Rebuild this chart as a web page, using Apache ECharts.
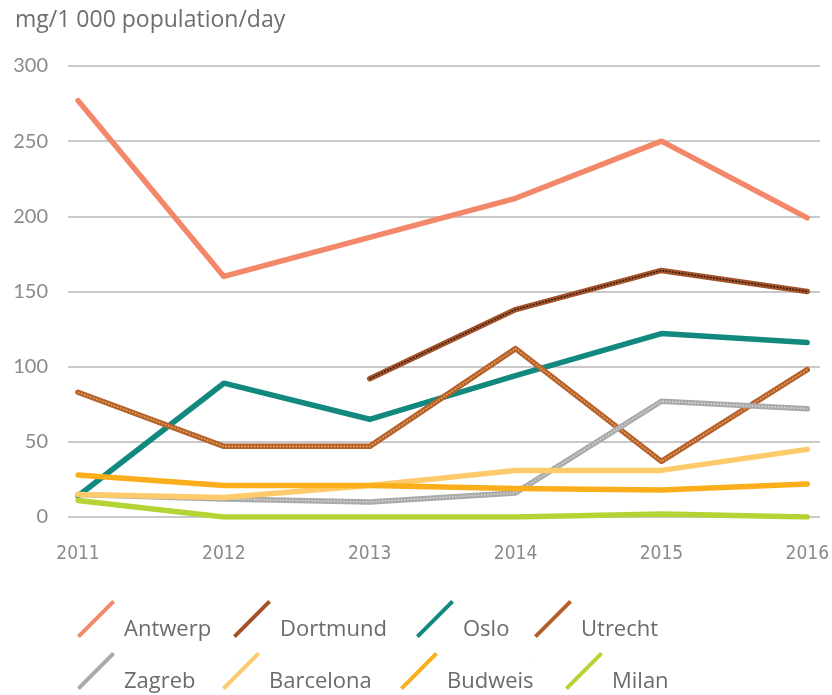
<!DOCTYPE html>
<html><head><meta charset="utf-8">
<script src="https://cdn.jsdelivr.net/npm/echarts@6/dist/echarts.min.js"></script>
<style>html,body{margin:0;padding:0;background:#fff}#c{width:832px;height:695px}</style>
</head><body><div id="c"></div>
<script>
const years = ['2011','2012','2013','2014','2015','2016'];
const yTicks = [0, 50, 100, 150, 200, 250, 300];
const antwerp   = [277, 160, 186, 212, 250, 199];
const dortmund  = [null, null, 92, 138, 164, 150];
const oslo      = [14, 89, 65, 94, 122, 116];
const utrecht   = [83, 47, 47, 112, 37, 98];
const zagreb    = [15, 12, 10, 16, 77, 72];
const barcelona = [15, 13, 21, 31, 31, 45];
const budweis   = [28, 21, 21, 19, 18, 22];
const milan     = [11, 0, 0, 0, 2, 0];

const FONT = 'Lato, "Open Sans", sans-serif';
const WIDE = '"Open Sans", "Noto Sans", sans-serif';
const NARROW = '"Liberation Sans Narrow", "DejaVu Sans Condensed", sans-serif';
const ICON = 'path://M0,37 L3,40 L40,3 L37,0 Z M0,62 L0.3,62 L0.3,61.7 Z';

const defs = [
  {name:'Antwerp',   data:antwerp,   color:'#F3876A'},
  {name:'Dortmund',  data:dortmund,  color:'#A3522A', over:'#2a1810', overType:'dotted'},
  {name:'Oslo',      data:oslo,      color:'#11897F'},
  {name:'Utrecht',   data:utrecht,   color:'#B5612D', over:'#E8A453', overType:'dotted'},
  {name:'Zagreb',    data:zagreb,    color:'#A9A9A9', over:'#D6D6D6', overType:'dotted'},
  {name:'Barcelona', data:barcelona, color:'#FDCB6B'},
  {name:'Budweis',   data:budweis,   color:'#FBAE1C'},
  {name:'Milan',     data:milan,     color:'#B4D334'}
];
const legendPos = {
  Antwerp:[77,600], Dortmund:[233,600], Oslo:[416,600], Utrecht:[534,600],
  Zagreb:[77,652], Barcelona:[222,652], Budweis:[400,652], Milan:[565,652]
};

const series = [];
defs.forEach(d => {
  series.push({
    name:d.name, type:'line', xAxisIndex:1, yAxisIndex:1, data:d.data,
    symbol:'none', connectNulls:false, color:d.color,
    lineStyle:{width:5.5, color:d.color, cap:'round', join:'round'}
  });
  if (d.over) {
    series.push({
      name:d.name, type:'line', xAxisIndex:1, yAxisIndex:1, data:d.data,
      symbol:'none', silent:true, color:d.color,
      lineStyle:{width:1.6, color:d.over, type:d.overType}
    });
  }
});

const legends = defs.map(d => ({
  data:[{name:d.name, icon:ICON}], left:legendPos[d.name][0], top:legendPos[d.name][1],
  itemWidth:38, itemHeight:62, itemGap:0, selectedMode:false, padding:0,
  textStyle:{fontFamily:WIDE, fontSize:22, color:'#6b6b6b', padding:[0,0,0,4]}
}));

const chart = echarts.init(document.getElementById('c'), null, {renderer:'canvas'});
chart.setOption({
  animation:false,
  backgroundColor:'#fff',
  title:{text:'mg/1 000 population/day', left:10, top:4,
    textStyle:{fontFamily:WIDE, fontSize:23, fontWeight:'normal', color:'#6e6e6e'}},
  legend:legends,
  grid:[
    {left:68, right:12, top:66, bottom:178},
    {left:78, right:24, top:66, bottom:178}
  ],
  xAxis:[
    {gridIndex:0, type:'category', data:years, show:false},
    {gridIndex:1, type:'category', data:years, boundaryGap:false,
      axisLine:{show:false}, axisTick:{show:false}, splitLine:{show:false},
      axisLabel:{fontFamily:NARROW, fontSize:19, color:'#8a8a8a', margin:28, interval:0}}
  ],
  yAxis:[
    {gridIndex:0, type:'value', min:yTicks[0], max:yTicks[yTicks.length-1], interval:50,
      axisLine:{show:false}, axisTick:{show:false},
      axisLabel:{fontFamily:FONT, fontSize:20, color:'#8a8a8a', margin:20},
      splitLine:{lineStyle:{color:'#c9c9c9', width:2}}},
    {gridIndex:1, type:'value', min:yTicks[0], max:yTicks[yTicks.length-1], interval:50,
      show:false, splitLine:{show:false}}
  ],
  series:series
});
</script></body></html>
